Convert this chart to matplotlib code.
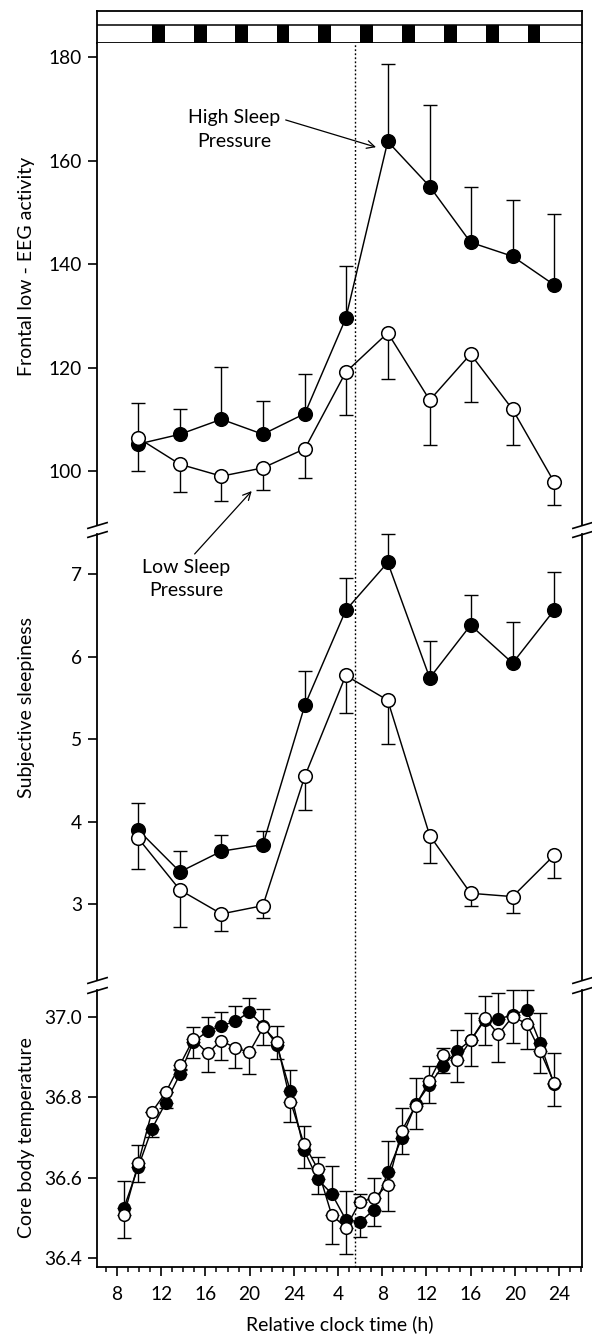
import numpy as np
import matplotlib
matplotlib.use('Agg')
import matplotlib.pyplot as plt
import matplotlib.transforms as mtransforms
from matplotlib.lines import Line2D
from matplotlib.ticker import FixedLocator, MultipleLocator

plt.rcParams['font.family'] = ['Lato', 'DejaVu Sans']

# -------------------------
# Datos
# -------------------------

# horas relativas (8 = 08:00 del dia 1, 32 = 08:00 del dia 2)
t_main = [9.9, 13.7, 17.45, 21.2, 25.0, 28.7, 32.5, 36.3, 40.0, 43.8, 47.55]

# EEG frontal de baja frecuencia
eeg_high = [105.2, 107.1, 110.0, 107.1, 111.1, 129.5, 163.7, 155.0, 144.2, 141.5, 136.0]
eeg_high_err = [8.0, 4.8, 10.2, 6.4, 7.6, 10.2, 15.0, 15.8, 10.8, 10.9, 13.7]
eeg_low = [106.4, 101.3, 99.0, 100.6, 104.3, 119.1, 126.7, 113.7, 122.6, 111.9, 97.9]
eeg_low_err = [6.4, 5.3, 4.8, 4.3, 5.6, 8.3, 9.0, 8.7, 9.2, 6.9, 4.5]

# somnolencia subjetiva
kss_high = [3.90, 3.39, 3.64, 3.72, 5.41, 6.56, 7.14, 5.74, 6.38, 5.92, 6.56]
kss_high_err = [0.32, 0.25, 0.20, 0.16, 0.41, 0.39, 0.34, 0.45, 0.37, 0.50, 0.46]
kss_low = [3.80, 3.17, 2.88, 2.98, 4.55, 5.77, 5.47, 3.83, 3.13, 3.09, 3.59]
kss_low_err = [0.38, 0.45, 0.21, 0.15, 0.41, 0.46, 0.53, 0.33, 0.16, 0.20, 0.28]

# temperatura corporal central
t_temp = [8.63, 9.93, 11.14, 12.41, 13.70, 14.90, 16.21, 17.41, 18.68, 19.97,
          21.24, 22.45, 23.70, 24.92, 26.16, 27.43, 28.72, 29.99, 31.26, 32.50,
          33.76, 35.03, 36.26, 37.48, 38.80, 40.04, 41.30, 42.51, 43.81, 45.08,
          46.28, 47.55]
temp_high = [36.525, 36.627, 36.720, 36.786, 36.857, 36.937, 36.964, 36.977, 36.988, 37.011,
             36.977, 36.930, 36.814, 36.669, 36.596, 36.560, 36.495, 36.490, 36.520, 36.613,
             36.698, 36.782, 36.830, 36.877, 36.915, 36.942, 36.992, 36.994, 37.004, 37.017,
             36.935, 36.832]
temp_high_up = [0.066, 0.053, 0, 0, 0.01, 0.038, 0.034, 0.035, 0.039, 0.035,
                0.043, 0, 0.054, 0, 0, 0.069, 0.072, 0, 0, 0.079,
                0, 0, 0.047, 0.044, 0.052, 0.066, 0.058, 0.064, 0.062, 0.049,
                0.073, 0.078]
temp_high_dn = [0, 0, 0.02, 0.014, 0, 0, 0, 0, 0, 0,
                0, 0.036, 0, 0.044, 0.036, 0, 0, 0.038, 0.04, 0,
                0.04, 0.062, 0, 0, 0, 0, 0, 0, 0, 0,
                0, 0]
temp_low = [36.507, 36.636, 36.762, 36.812, 36.880, 36.944, 36.909, 36.940, 36.923, 36.911,
            36.973, 36.938, 36.789, 36.684, 36.622, 36.507, 36.476, 36.540, 36.549, 36.582,
            36.716, 36.779, 36.840, 36.905, 36.892, 36.942, 36.996, 36.956, 37.000, 36.982,
            36.915, 36.836]
temp_low_up = [0, 0, 0, 0, 0, 0, 0, 0, 0, 0,
               0, 0.039, 0, 0.044, 0.028, 0, 0, 0.02, 0.051, 0,
               0.056, 0.069, 0, 0, 0, 0, 0, 0, 0, 0,
               0, 0]
temp_low_dn = [0.058, 0.046, 0, 0, 0.01, 0.047, 0.046, 0.048, 0.051, 0.054,
               0.043, 0, 0.05, 0, 0, 0.072, 0.066, 0, 0, 0.066,
               0, 0, 0.055, 0.045, 0.054, 0.065, 0.066, 0.07, 0.066, 0.063,
               0.056, 0.058]

# bloques negros de la barra superior
block_start = [11.2, 14.95, 18.7, 22.45, 26.2, 30.0, 33.8, 37.6, 41.4, 45.15]
block_width = 1.15

# linea punteada
t_dotted = 29.5

xtick_pos = [8, 12, 16, 20, 24, 28, 32, 36, 40, 44, 48]
xtick_lab = ['8', '12', '16', '20', '24', '4', '8', '12', '16', '20', '24']

# ----------
# Figura
# ----------

W, H = 592, 1336
fig = plt.figure(figsize=(W / 100, H / 100), dpi=100)


def box(top, bottom):
    return [97 / W, 1 - bottom / H, 485 / W, (bottom - top) / H]


ax_bar = fig.add_axes(box(10.7, 42.7))
ax1 = fig.add_axes(box(42.7, 525))
ax2 = fig.add_axes(box(534, 980))
ax3 = fig.add_axes(box(990, 1267))

xlim = (6.19, 50.08)
for ax in (ax_bar, ax1, ax2, ax3):
    ax.set_xlim(xlim)
    for s in ax.spines.values():
        s.set_linewidth(1.3)

# barra superior
ax_bar.set_ylim(0, 1)
ax_bar.bar(block_start, 0.54, width=block_width, align='edge', color='black', lw=0)
ax_bar.axhline(0.54, color='black', lw=1.1)
ax_bar.set_xticks([])
ax_bar.set_yticks([])


def draw(ax, t, y, up, dn, filled, ms):
    ax.errorbar(t, y, yerr=[dn, up], fmt='none', ecolor='black', elinewidth=1,
                capsize=4.8, capthick=1, zorder=2, clip_on=False)
    ax.plot(t, y, '-', color='black', lw=1.05, zorder=3)
    ax.plot(t, y, 'o', ls='none', ms=ms, mfc='black' if filled else 'white',
            mec='black', mew=1.1, zorder=4 if filled else 5, clip_on=False)


z11 = np.zeros(len(t_main))
draw(ax1, t_main, eeg_high, eeg_high_err, z11, True, 9.8)
draw(ax1, t_main, eeg_low, z11, eeg_low_err, False, 9.8)
draw(ax2, t_main, kss_high, kss_high_err, z11, True, 9.8)
draw(ax2, t_main, kss_low, z11, kss_low_err, False, 9.8)
draw(ax3, t_temp, temp_high, temp_high_up, temp_high_dn, True, 8.4)
draw(ax3, t_temp, temp_low, temp_low_up, temp_low_dn, False, 8.4)

ax1.set_ylim(89.56, 182.8)
ax1.set_yticks([100, 120, 140, 160, 180])
ax2.set_ylim(2.079, 7.485)
ax2.set_yticks([3, 4, 5, 6, 7])
ax3.set_ylim(36.378, 37.066)
ax3.set_yticks([36.4, 36.6, 36.8, 37.0])
ax3.set_yticklabels(['36.4', '36.6', '36.8', '37.0'])

for ax in (ax1, ax2):
    ax.spines['top'].set_visible(False)
    ax.spines['bottom'].set_visible(False)
    ax.set_xticks([])
ax3.spines['top'].set_visible(False)

for ax in (ax1, ax2, ax3):
    ax.tick_params(axis='y', direction='out', length=6.8, width=1.2, pad=4, labelsize=13.8)

ax3.xaxis.set_major_locator(FixedLocator(xtick_pos))
ax3.set_xticklabels(xtick_lab)
ax3.xaxis.set_minor_locator(MultipleLocator(1))
ax3.tick_params(axis='x', which='major', direction='out', length=6.5, width=1.2, pad=7, labelsize=13.8)
ax3.tick_params(axis='x', which='minor', direction='out', length=3.5, width=1.1)

# cortes del eje
brk = dict(marker=[(-1, -0.3), (1, 0.3)], markersize=15, linestyle='none',
           color='k', mec='k', mew=1.2, clip_on=False)
ax1.plot([0, 1], [0, 0], transform=ax1.transAxes, **brk)
ax2.plot([0, 1], [1, 1], transform=ax2.transAxes, **brk)
ax2.plot([0, 1], [0, 0], transform=ax2.transAxes, **brk)
ax3.plot([0, 1], [1, 1], transform=ax3.transAxes, **brk)

# linea punteada vertical
trans = mtransforms.blended_transform_factory(ax3.transData, fig.transFigure)
fig.add_artist(Line2D([t_dotted, t_dotted], [1 - 1267 / H, 1 - 42.7 / H], transform=trans,
                      ls=(0, (1.3, 1.6)), lw=1, color='black'))

# etiquetas
ax1.set_ylabel('Frontal low - EEG activity', fontsize=14)
ax1.yaxis.set_label_coords(-0.128, 0.537)
ax2.set_ylabel('Subjective sleepiness', fontsize=14)
ax2.yaxis.set_label_coords(-0.128, 0.61)
ax3.set_ylabel('Core body temperature', fontsize=14)
ax3.yaxis.set_label_coords(-0.128, 0.466)
ax3.set_xlabel('Relative clock time (h)', fontsize=14, labelpad=9)

ax1.annotate('High Sleep\nPressure', xy=(31.44, 162.6), xytext=(18.6, 166.0),
             ha='center', va='center', fontsize=14, linespacing=1.45,
             arrowprops=dict(arrowstyle='->', lw=0.9, color='k', shrinkA=2, shrinkB=0,
                             relpos=(1.0, 0.78)))
ax2.annotate('Low Sleep\nPressure', xy=(20.19, 96.13), xycoords=ax1.transData,
             xytext=(14.23, 6.94), textcoords='data',
             ha='center', va='center', fontsize=14, linespacing=1.45,
             arrowprops=dict(arrowstyle='->', lw=0.9, color='k', shrinkA=2, shrinkB=0,
                             relpos=(0.55, 1.0)))

fig.savefig('out.png', dpi=100)
